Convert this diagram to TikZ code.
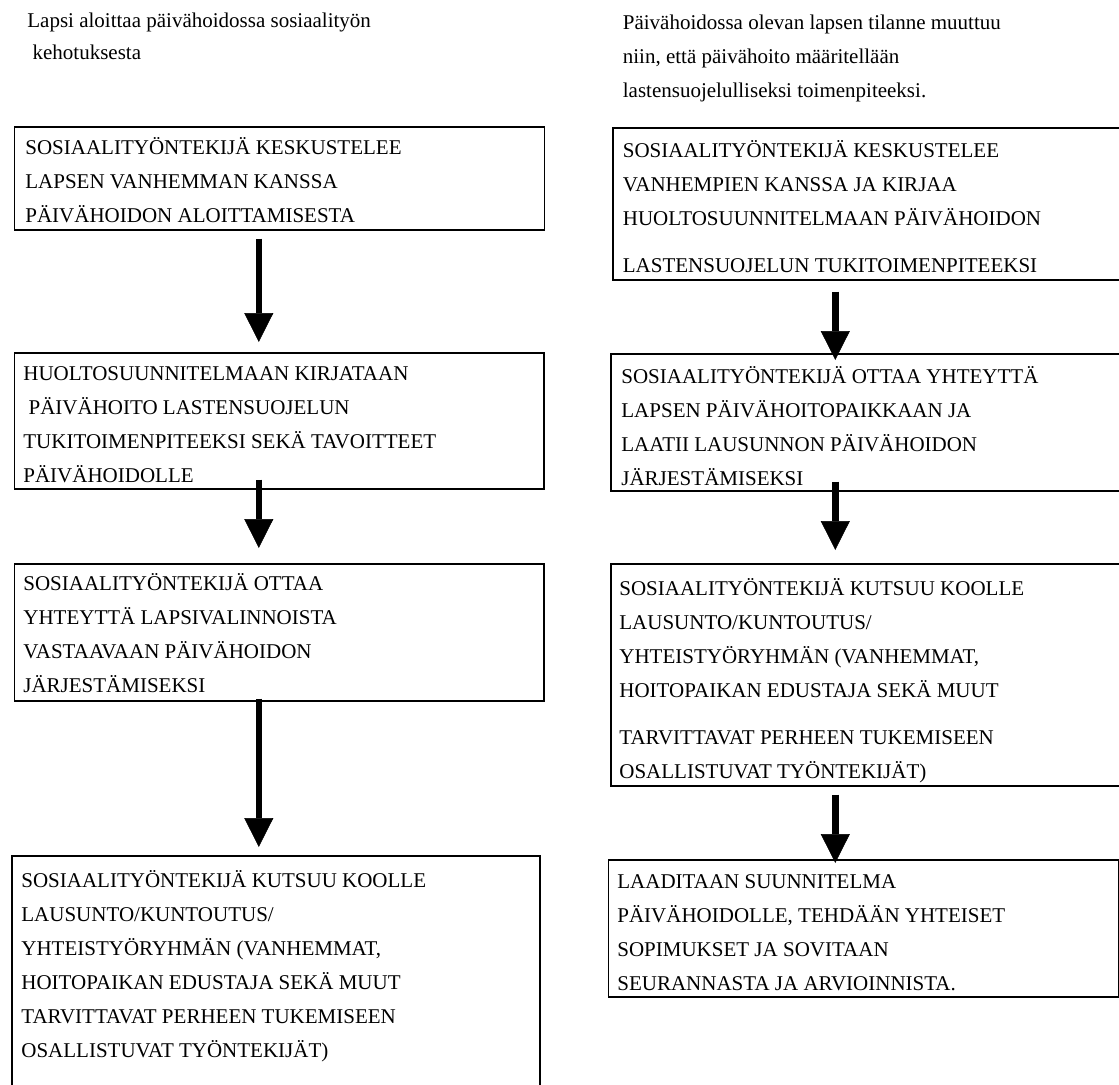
\documentclass[tikz,border=0pt]{standalone}
\usepackage{fontspec}
\setmainfont{Liberation Serif}
\usetikzlibrary{arrows.meta}

\tikzset{
  flowbox/.style={draw, line width=0.8pt, inner sep=0pt, anchor=north west},
  flowtext/.style={anchor=base west, inner sep=0pt, font=\fontsize{10.5}{17}\selectfont},
  downarrow/.style={line width=3.2pt, -{Triangle[width=14.5pt,length=14.5pt,line width=0.3pt]}},
}
\newcommand{\boxlines}[1]{\begin{tabular}[t]{@{}l@{}}#1\end{tabular}}

\begin{document}
\begin{tikzpicture}[x=0.5pt,y=0.5pt,yscale=-1,xscale=1]
\useasboundingbox (0,0) rectangle (1119,1084);

% Text Node
\node[flowtext] (lhead) at (27,27) {\boxlines{Lapsi aloittaa päivähoidossa sosiaalityön\\[-1pt] \ kehotuksesta}};
% Text Node
\node[flowtext] (rhead) at (622.5,29) {\boxlines{Päivähoidossa olevan lapsen tilanne muuttuu\\ niin, että päivähoito määritellään\\ lastensuojelulliseksi toimenpiteeksi.}};

%Shape: Rectangle
\node[flowbox, minimum width=265pt, minimum height=51.5pt] (l1) at (13.5,126) {};
\node[flowbox, minimum width=264.75pt, minimum height=68pt] (l2) at (13.5,352) {};
\node[flowbox, minimum width=264.75pt, minimum height=68.5pt] (l3) at (13.5,563) {};
\node[flowbox, minimum width=264pt, minimum height=125pt] (l4) at (11,855) {};
%Shape: Rectangle
\node[flowbox, minimum width=257.5pt, minimum height=76pt] (r1) at (612,127) {};
\node[flowbox, minimum width=258.5pt, minimum height=68.5pt] (r2) at (610,353) {};
\node[flowbox, minimum width=258.5pt, minimum height=111pt] (r3) at (610,563) {};
\node[flowbox, minimum width=255.25pt, minimum height=68.5pt] (r4) at (607.5,859) {};

% Text Node
\node[flowtext] (l1text) at (25,154) {\boxlines{SOSIAALITYÖNTEKIJÄ KESKUSTELEE\\ LAPSEN VANHEMMAN KANSSA\\ PÄIVÄHOIDON ALOITTAMISESTA}};
% Text Node
\node[flowtext] (l2text) at (23,380) {\boxlines{HUOLTOSUUNNITELMAAN KIRJATAAN\\ \ PÄIVÄHOITO LASTENSUOJELUN\\ TUKITOIMENPITEEKSI SEKÄ TAVOITTEET\\ PÄIVÄHOIDOLLE}};
% Text Node
\node[flowtext] (l3text) at (23,590) {\boxlines{SOSIAALITYÖNTEKIJÄ OTTAA\\ YHTEYTTÄ LAPSIVALINNOISTA\\ VASTAAVAAN PÄIVÄHOIDON\\ JÄRJESTÄMISEKSI}};
% Text Node
\node[flowtext] (l4text) at (21,887) {\boxlines{SOSIAALITYÖNTEKIJÄ KUTSUU KOOLLE\\ LAUSUNTO/KUNTOUTUS/\\ YHTEISTYÖRYHMÄN (VANHEMMAT,\\ HOITOPAIKAN EDUSTAJA SEKÄ MUUT\\ TARVITTAVAT PERHEEN TUKEMISEEN\\ OSALLISTUVAT TYÖNTEKIJÄT)}};
% Text Node
\node[flowtext] (r1text) at (622.5,157) {\boxlines{SOSIAALITYÖNTEKIJÄ KESKUSTELEE\\ VANHEMPIEN KANSSA JA KIRJAA\\ HUOLTOSUUNNITELMAAN PÄIVÄHOIDON\\[6.5pt] LASTENSUOJELUN TUKITOIMENPITEEKSI}};
% Text Node
\node[flowtext] (r2text) at (621,383) {\boxlines{SOSIAALITYÖNTEKIJÄ OTTAA YHTEYTTÄ\\ LAPSEN PÄIVÄHOITOPAIKKAAN JA\\ LAATII LAUSUNNON PÄIVÄHOIDON\\ JÄRJESTÄMISEKSI}};
% Text Node
\node[flowtext] (r3text) at (619,595) {\boxlines{SOSIAALITYÖNTEKIJÄ KUTSUU KOOLLE\\ LAUSUNTO/KUNTOUTUS/\\ YHTEISTYÖRYHMÄN (VANHEMMAT,\\ HOITOPAIKAN EDUSTAJA SEKÄ MUUT\\[6.5pt] TARVITTAVAT PERHEEN TUKEMISEEN\\ OSALLISTUVAT TYÖNTEKIJÄT)}};
% Text Node
\node[flowtext] (r4text) at (617,888) {\boxlines{LAADITAAN SUUNNITELMA\\ PÄIVÄHOIDOLLE, TEHDÄÄN YHTEISET\\ SOPIMUKSET JA SOVITAAN\\ SEURANNASTA JA ARVIOINNISTA.}};

%Straight Lines
\coordinate (la) at ([xshift=-10.25pt]l1.south);
\draw[downarrow, shorten <=4pt, shorten >=5pt] (la) -- (la |- l2.north);
\draw[downarrow, shorten <=-5pt, shorten >=7.5pt] (la |- l2.south) -- (la |- l3.north);
\draw[downarrow, shorten <=-1.5pt, shorten >=4pt] (la |- l3.south) -- (la |- l4.north);
%Straight Lines
\coordinate (ra) at ([xshift=-17.5pt]r1.south);
\draw[downarrow, shorten <=5.5pt, shorten >=-3.5pt] (ra) -- (ra |- r2.north);
\draw[downarrow, shorten <=-5pt, shorten >=6.5pt] (ra |- r2.south) -- (ra |- r3.north);
\draw[downarrow, shorten <=4pt, shorten >=-2pt] (ra |- r3.south) -- (ra |- r4.north);

\end{tikzpicture}
\end{document}
